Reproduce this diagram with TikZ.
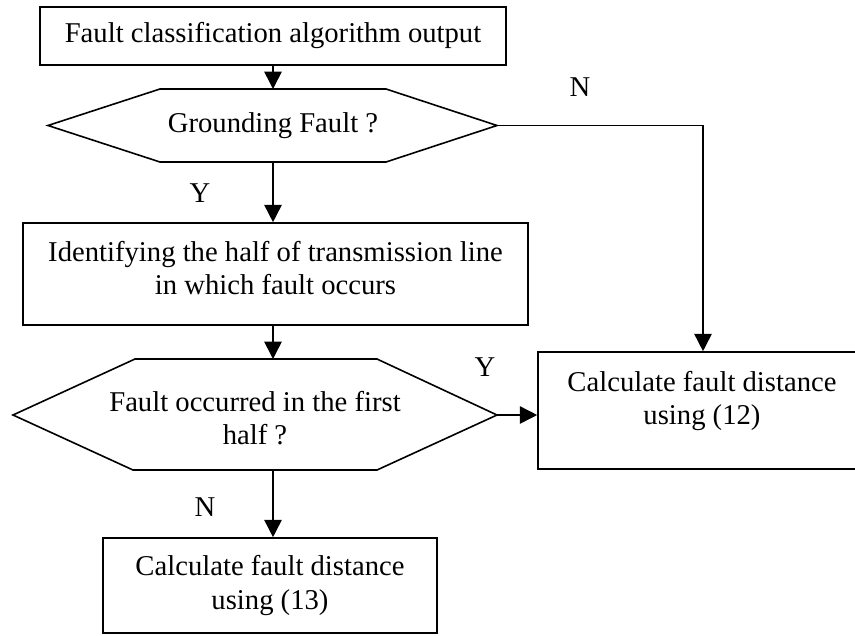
\documentclass[tikz,border=0pt]{standalone}
\usepackage{fontspec}
\setmainfont{Liberation Serif}
\usepackage{tikz}
\usetikzlibrary{arrows.meta, positioning, calc}
\tikzset{
	procbox/.style ={rectangle, draw=black, line width=1.2pt, align=center, inner sep=0pt},
	decline/.style ={line width=1.2pt, line join=miter},
	flowarrow/.style={-{Triangle[length=13pt, width=13pt]}, line width=1.2pt},
	yn/.style       ={inner sep=0pt},
}

\begin{document}
\begin{tikzpicture}[x=0.75pt, y=-0.75pt, font=\fontsize{21.5}{25}\selectfont]
	\useasboundingbox (0,0) rectangle (855,635);
	% process boxes
	\node[procbox, minimum width=349.5pt, minimum height=43.5pt] (out) at (273,36) {Fault classification algorithm output};
	\node[procbox, minimum width=378.75pt, minimum height=76.5pt, text depth=9pt] (half) at (275.5,274) {Identifying the half of transmission line\\in which fault occurs};
	\node[procbox, minimum width=246pt, minimum height=87.75pt, text depth=19pt] (calc12) at (702,410.5) {Calculate fault distance\\using (12)};
	\node[procbox, minimum width=250.5pt, minimum height=71.25pt] (calc13) at (270,585.5) {Calculate fault distance\\using (13)};
	% decision hexagons
	\draw[decline] (48,125.5) coordinate (gnd-w) -- (160,89) -- (386,89) -- (497,125.5) coordinate (gnd-e) -- (386,162) -- (160,162) -- cycle;
	\coordinate (gnd-n) at (273,89);
	\coordinate (gnd-s) at (273,162);
	\node (gnd) at (273,125.5) {Grounding Fault ?};
	\draw[decline] (13,415) coordinate (first-w) -- (135,359) -- (377,359) -- (497,415) coordinate (first-e) -- (377,470) -- (133,470) -- cycle;
	\coordinate (first-n) at (273,359);
	\coordinate (first-s) at (273,470);
	\node[align=center] (first) at (255,418) {Fault occurred in the first\\half ?};
	% connectors
	\draw[flowarrow] (out.south) -- (gnd-n);
	\draw[flowarrow] (gnd-s) -- (gnd-s |- half.north);
	\draw[flowarrow] (half.south -| first-n) -- (first-n);
	\draw[flowarrow] (first-s) -- (first-s |- calc13.north);
	\draw[flowarrow] (first-e) -- (first-e -| calc12.west);
	\coordinate (gnd-turn) at (703,125.5);
	\draw[flowarrow] (gnd-e) -- (gnd-turn) -- (gnd-turn |- calc12.north);
	% branch labels
	\node[yn] (lbl-n1) at (580,87) {N};
	\node[yn] (lbl-y1) at (200,193) {Y};
	\node[yn] (lbl-y2) at (485,367) {Y};
	\node[yn] (lbl-n2) at (205,507) {N};
\end{tikzpicture}
\end{document}
